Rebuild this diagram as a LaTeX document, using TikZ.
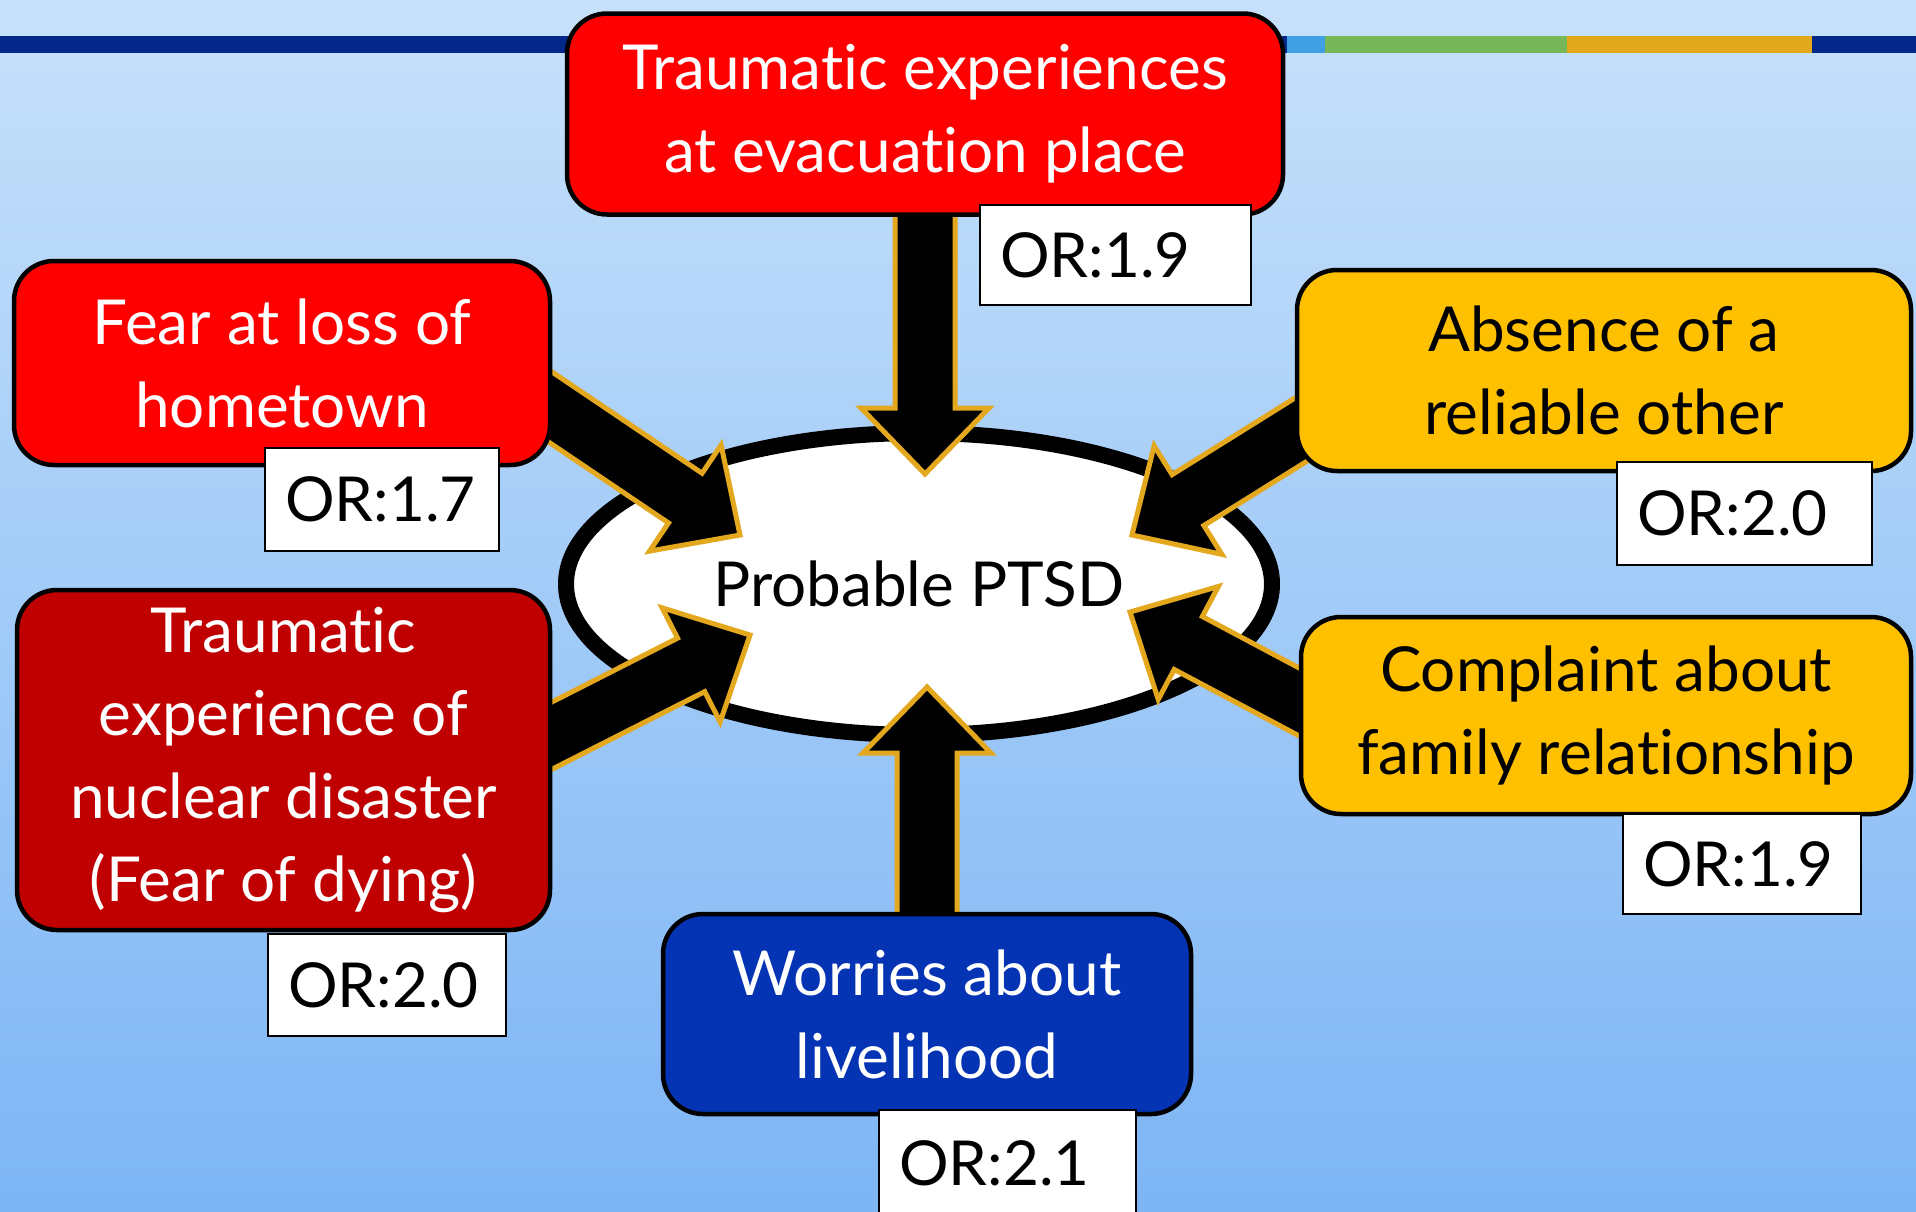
\documentclass[tikz,border=0pt]{standalone}
\usepackage{fontspec}
\setmainfont{Lato}[Ligatures={NoCommon}]
\usetikzlibrary{calc,shapes.geometric}
\definecolor{bgtop}{RGB}{199,225,250}
\definecolor{bgbot}{RGB}{125,181,245}
\definecolor{navy}{RGB}{3,40,138}
\definecolor{barblue}{RGB}{65,160,228}
\definecolor{bargreen}{RGB}{120,182,90}
\definecolor{barorange}{RGB}{226,169,29}
\definecolor{boxred}{RGB}{255,0,0}
\definecolor{boxdarkred}{RGB}{192,0,0}
\definecolor{boxamber}{RGB}{255,192,0}
\definecolor{boxblue}{RGB}{4,51,179}
\definecolor{arroworange}{RGB}{227,168,30}
\pgfdeclarelayer{back}
\pgfdeclarelayer{mid}
\pgfsetlayers{back,mid,main}
\newcommand\blockarrow[3]{% name, tail, tip
  \coordinate (#1-b) at ($(#3)!66pt!(#2)$);
  \filldraw[bigarrow] (#3) -- ($(#1-b)!64pt!90:(#3)$) -- ($(#1-b)!30pt!90:(#3)$)
    -- ($(#2)!30pt!90:(#3)$) -- ($(#2)!30pt!-90:(#3)$)
    -- ($(#1-b)!30pt!-90:(#3)$) -- ($(#1-b)!64pt!-90:(#3)$) -- cycle;
}
\begin{document}
\begin{tikzpicture}[x=1pt,y=1pt,
  factor/.style={draw=black, line width=4.5pt, rounded corners=40pt, align=center,
    font=\fontsize{62}{83}\selectfont, inner sep=0pt},
  orbox/.style={draw=black, line width=2.5pt, fill=white, align=left, inner xsep=20pt,
    inner ysep=0pt, font=\fontsize{62}{83}\selectfont},
  bigarrow/.style={fill=black, draw=arroworange, line width=5pt, line join=miter}]

\useasboundingbox (0,0) rectangle (1916,-1211);

% factor boxes
\node[factor, fill=boxred, text=white, minimum width=716pt, minimum height=201pt]
  (top) at (925,-114) {Traumatic experiences\\at evacuation place};
\node[factor, fill=boxred, text=white, minimum width=536pt, minimum height=204pt]
  (fear) at (282,-363) {Fear at loss of\\hometown};
\node[factor, fill=boxdarkred, text=white, minimum width=533pt, minimum height=340pt]
  (nuclear) at (283.5,-760) {Traumatic\\experience of\\nuclear disaster\\(Fear of dying)};
\node[factor, fill=boxamber, text=black, minimum width=614pt, minimum height=201pt]
  (absence) at (1604,-370.5) {Absence of a\\reliable other};
\node[factor, fill=boxamber, text=black, minimum width=610pt, minimum height=197pt]
  (complaint) at (1606,-715.5) {Complaint about\\family relationship};
\node[factor, fill=boxblue, text=white, minimum width=528pt, minimum height=200pt]
  (worries) at (927,-1014) {Worries about\\livelihood};

% OR labels
\node[orbox, text width=231pt, minimum height=100pt] (or1) at (1115.5,-255) {OR:1.9};
\node[orbox, text width=194pt, minimum height=103pt] (or2) at (382,-499.5) {OR:1.7};
\node[orbox, text width=198pt, minimum height=102pt] (or3) at (387,-985) {OR:2.0};
\node[orbox, text width=215pt, minimum height=103pt] (or4) at (1744.5,-513.5) {OR:2.0};
\node[orbox, text width=198pt, minimum height=100pt] (or5) at (1742,-864) {OR:1.9};
\node[orbox, text width=217pt, minimum height=106pt] (or6) at (1007.5,-1163) {OR:2.1};

\begin{pgfonlayer}{back}
  \shade[top color=bgtop, bottom color=bgbot] (0,0) rectangle (1916,-1211);
  \fill[navy] (0,-36) rectangle (1287,-53);
  \fill[barblue] (1287,-36) rectangle (1325,-53);
  \fill[bargreen] (1325,-36) rectangle (1567,-53);
  \fill[barorange] (1567,-36) rectangle (1812,-53);
  \fill[navy] (1812,-36) rectangle (1916,-53);
  \node[ellipse, draw=black, line width=16pt, fill=white, minimum width=706pt,
    minimum height=302pt, inner sep=0pt, font=\fontsize{62}{83}\selectfont]
    (ptsd) at (919,-584) {Probable PTSD};
\end{pgfonlayer}

\begin{pgfonlayer}{mid}
  \coordinate (tipTop) at (925,-474);
  \coordinate (tipBot) at (927,-687);
  \coordinate (tailFear) at (500,-373);
  \coordinate (tipFear) at (740,-535);
  \coordinate (tailNuc) at (500,-762);
  \coordinate (tipNuc) at (750,-635);
  \coordinate (tailAbs) at (1350,-399);
  \coordinate (tipAbs) at (1132,-535);
  \coordinate (tailCom) at (1350,-729);
  \coordinate (tipCom) at (1130,-612);
  \blockarrow{a1}{top.center}{tipTop}
  \blockarrow{a2}{tailFear}{tipFear}
  \blockarrow{a3}{tailNuc}{tipNuc}
  \blockarrow{a4}{tailAbs}{tipAbs}
  \blockarrow{a5}{tailCom}{tipCom}
  \blockarrow{a6}{worries.center}{tipBot}
\end{pgfonlayer}
\end{tikzpicture}
\end{document}
